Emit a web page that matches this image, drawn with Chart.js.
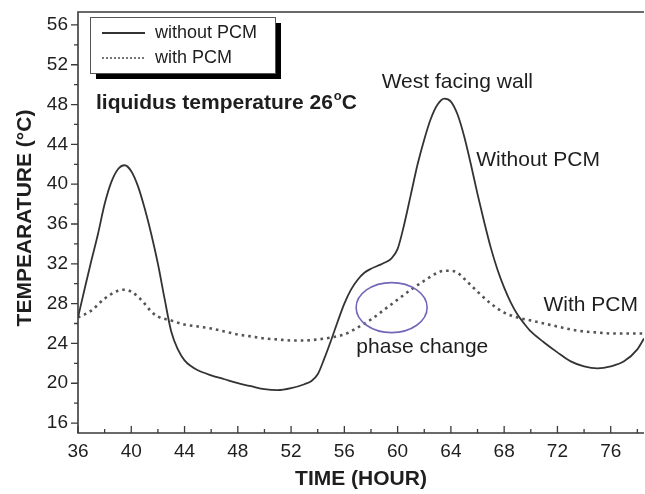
<!DOCTYPE html>
<html>
<head>
<meta charset="utf-8">
<script src="https://cdn.jsdelivr.net/npm/chart.js@4.4.0/dist/chart.umd.min.js"></script>
<style>
    html, body { margin: 0; padding: 0; background: #fff; }
</style>
</head>
<body>
<canvas id="diagramm" width="645" height="494"></canvas>
<script>
// Ilma PCM-ita seina temperatuur (tund, °C)
const tunnidIlma = [36, 36.5, 37, 37.5, 38, 38.5, 39, 39.5, 40, 40.5, 41, 41.5, 42, 42.5, 43, 43.5, 44, 44.5, 45, 46, 47, 48, 49, 50, 51, 52, 53, 53.5, 54, 54.5, 55, 55.5, 56, 56.5, 57, 57.5, 58, 58.5, 59, 59.5, 60, 60.5, 61, 61.5, 62, 62.5, 63, 63.5, 64, 64.5, 65, 65.5, 66, 66.5, 67, 67.5, 68, 68.5, 69, 69.5, 70, 71, 72, 73, 74, 75, 76, 77, 78, 78.5];
const tempIlma = [26.6, 29.5, 32.3, 35, 38, 40.2, 41.5, 41.9, 41.3, 39.8, 37.6, 35, 32, 28.5, 25.2, 23.4, 22.3, 21.7, 21.3, 20.8, 20.4, 20, 19.7, 19.4, 19.3, 19.5, 19.9, 20.2, 20.9, 22.5, 24.3, 26.2, 28, 29.4, 30.4, 31.1, 31.5, 31.8, 32.1, 32.5, 33.5, 36, 39, 42, 44.5, 46.6, 48, 48.6, 48.3, 47, 44.8, 42, 39, 36.2, 33.6, 31.4, 29.6, 28.1, 26.9, 26, 25.2, 24.1, 23.1, 22.2, 21.7, 21.5, 21.7, 22.2, 23.4, 24.5];

// PCM-iga seina temperatuur (tund, °C)
const tunnidPCM = [36, 37, 38, 39, 39.5, 40, 40.5, 41, 41.5, 42, 43, 44, 45, 46, 47, 48, 49, 50, 51, 52, 53, 54, 55, 56, 57, 58, 59, 60, 61, 62, 63, 63.5, 64, 64.5, 65, 66, 67, 68, 69, 70, 71, 72, 73, 74, 75, 76, 77, 78.5];
const tempPCM = [26.6, 27.3, 28.5, 29.3, 29.4, 29.2, 28.7, 28, 27.2, 26.7, 26.3, 25.9, 25.7, 25.5, 25.2, 24.9, 24.7, 24.5, 24.4, 24.3, 24.3, 24.4, 24.6, 24.9, 25.6, 26.4, 27.4, 28.4, 29.4, 30.3, 31.1, 31.3, 31.3, 31.1, 30.5, 29.2, 28, 27.1, 26.6, 26.3, 26, 25.7, 25.4, 25.2, 25.1, 25, 25, 25];

// Telgede märgid
const xMargid = [36, 40, 44, 48, 52, 56, 60, 64, 68, 72, 76];
const yMargid = [16, 20, 24, 28, 32, 36, 40, 44, 48, 52, 56];

const tekstiVarv = '#1e1e1e';
const joonVarv = '#3a3a3a';
const kiri = '"Liberation Sans", Arial, sans-serif';

// Paarid {x, y} graafiku jaoks
function punktid(tunnid, temp) {
    return tunnid.map((t, i) => ({ x: t, y: temp[i] }));
}

// Plugin: raam, kriipsud, legend ja märkused
const lisaJoonised = {
    id: 'lisaJoonised',
    afterDraw(chart) {
        const ctx = chart.ctx;
        const xs = chart.scales.x;
        const ys = chart.scales.y;
        const ala = chart.chartArea;
        ctx.save();

        // Raam (vasak, all, üleval)
        ctx.strokeStyle = joonVarv;
        ctx.lineWidth = 1.6;
        ctx.beginPath();
        ctx.moveTo(ala.right, ala.top);
        ctx.lineTo(ala.left, ala.top);
        ctx.lineTo(ala.left, ala.bottom);
        ctx.lineTo(ala.right, ala.bottom);
        ctx.stroke();

        // Y-telje kriipsud (väljapoole)
        ctx.lineWidth = 1.3;
        ctx.beginPath();
        for (let i = 0; i < yMargid.length; i++) {
            const py = ys.getPixelForValue(yMargid[i]);
            ctx.moveTo(ala.left, py);
            ctx.lineTo(ala.left - 7, py);
            if (i < yMargid.length - 1) {
                const pv = ys.getPixelForValue((yMargid[i] + yMargid[i + 1]) / 2);
                ctx.moveTo(ala.left, pv);
                ctx.lineTo(ala.left - 4, pv);
            }
        }
        // X-telje kriipsud (sissepoole)
        for (let i = 0; i < xMargid.length; i++) {
            const px = xs.getPixelForValue(xMargid[i]);
            ctx.moveTo(px, ala.bottom);
            ctx.lineTo(px, ala.bottom - 7);
            const pv = xs.getPixelForValue(xMargid[i] + 2);
            ctx.moveTo(pv, ala.bottom);
            ctx.lineTo(pv, ala.bottom - 4);
        }
        ctx.stroke();

        // Y-telje pealkiri
        ctx.save();
        ctx.translate(25, 218);
        ctx.rotate(-Math.PI / 2);
        ctx.fillStyle = tekstiVarv;
        ctx.font = 'bold 21px ' + kiri;
        ctx.textAlign = 'center';
        ctx.textBaseline = 'middle';
        ctx.fillText('TEMPEARATURE (°C)', 0, 0);
        ctx.restore();

        // Legend varjuga
        const lx = ala.left + 12, ly = ala.top + 5, lw = 185, lh = 56;
        ctx.fillStyle = '#000';
        ctx.fillRect(lx + 6, ly + 6, lw, lh);
        ctx.fillStyle = '#fff';
        ctx.fillRect(lx, ly, lw, lh);
        ctx.strokeStyle = '#555';
        ctx.lineWidth = 1;
        ctx.strokeRect(lx + 0.5, ly + 0.5, lw, lh);
        chart.data.datasets.forEach((ds, i) => {
            const ry = ly + 16 + i * 25;
            ctx.strokeStyle = ds.borderColor;
            ctx.lineWidth = i === 0 ? 1.8 : 1.6;
            ctx.setLineDash(i === 0 ? [] : [2, 2]);
            ctx.beginPath();
            ctx.moveTo(lx + 12, ry);
            ctx.lineTo(lx + 55, ry);
            ctx.stroke();
            ctx.setLineDash([]);
            ctx.fillStyle = tekstiVarv;
            ctx.font = '18px ' + kiri;
            ctx.textBaseline = 'middle';
            ctx.textAlign = 'left';
            ctx.fillText(ds.label, lx + 65, ry);
        });

        // Märkused andmete koordinaatides
        ctx.fillStyle = tekstiVarv;
        ctx.textBaseline = 'middle';
        const kirjuta = (tekst, tund, temp) => {
            ctx.fillText(tekst, xs.getPixelForValue(tund), ys.getPixelForValue(temp));
        };
        ctx.font = '21px ' + kiri;
        kirjuta('West facing wall', 58.8, 50.2);
        kirjuta('Without PCM', 65.9, 42.4);
        kirjuta('With PCM', 70.95, 27.8);
        kirjuta('phase change', 56.9, 23.65);

        // Paks tekst ülaindeksiga
        ctx.font = 'bold 21px ' + kiri;
        let px = xs.getPixelForValue(37.35);
        const py = ys.getPixelForValue(48.1);
        const osa1 = 'liquidus temperature 26';
        ctx.fillText(osa1, px, py);
        px += ctx.measureText(osa1).width;
        ctx.font = 'bold 13px ' + kiri;
        ctx.fillText('o', px + 1, py - 7);
        px += ctx.measureText('o').width + 1;
        ctx.font = 'bold 21px ' + kiri;
        ctx.fillText('C', px, py);

        // Faasimuutuse ellips
        ctx.strokeStyle = '#7466b8';
        ctx.lineWidth = 1.6;
        ctx.beginPath();
        ctx.ellipse(xs.getPixelForValue(59.55), ys.getPixelForValue(27.6), 35.5, 25, 0, 0, Math.PI * 2);
        ctx.stroke();

        ctx.restore();
    }
};

const ctx = document.getElementById('diagramm').getContext('2d');
new Chart(ctx, {
    type: 'line',
    data: {
        datasets: [{
            label: 'without PCM',
            data: punktid(tunnidIlma, tempIlma),
            borderColor: '#333',
            borderWidth: 1.8,
            pointRadius: 0,
            cubicInterpolationMode: 'monotone'
        }, {
            label: 'with PCM',
            data: punktid(tunnidPCM, tempPCM),
            borderColor: '#555',
            borderWidth: 2.6,
            borderDash: [2.6, 4],
            pointRadius: 0,
            cubicInterpolationMode: 'monotone'
        }]
    },
    options: {
        responsive: false,
        animation: false,
        devicePixelRatio: 1,
        layout: { padding: { top: 12, right: 1, left: 0, bottom: 0 } },
        plugins: {
            legend: { display: false },
            tooltip: { enabled: false }
        },
        scales: {
            x: {
                type: 'linear',
                min: 36,
                max: 78.5,
                afterBuildTicks: (s) => { s.ticks = xMargid.map(v => ({ value: v })); },
                afterFit: (s) => { s.height = 61; s.paddingLeft = 0; s.paddingRight = 0; },
                grid: { display: false, drawTicks: false },
                border: { display: false },
                ticks: {
                    color: tekstiVarv,
                    padding: 7,
                    maxRotation: 0,
                    font: { size: 19, family: kiri }
                },
                title: {
                    display: true,
                    text: 'TIME (HOUR)',
                    color: tekstiVarv,
                    padding: { top: 0, bottom: 2 },
                    font: { size: 21, weight: 'bold', family: kiri }
                }
            },
            y: {
                type: 'linear',
                min: 15,
                max: 57.3,
                afterBuildTicks: (s) => { s.ticks = yMargid.map(v => ({ value: v })); },
                afterFit: (s) => { s.width = 78; s.paddingTop = 0; s.paddingBottom = 0; },
                grid: { display: false, drawTicks: false },
                border: { display: false },
                ticks: {
                    color: tekstiVarv,
                    padding: 10,
                    font: { size: 19, family: kiri }
                }
            }
        }
    },
    plugins: [lisaJoonised]
});
</script>
</body>
</html>
